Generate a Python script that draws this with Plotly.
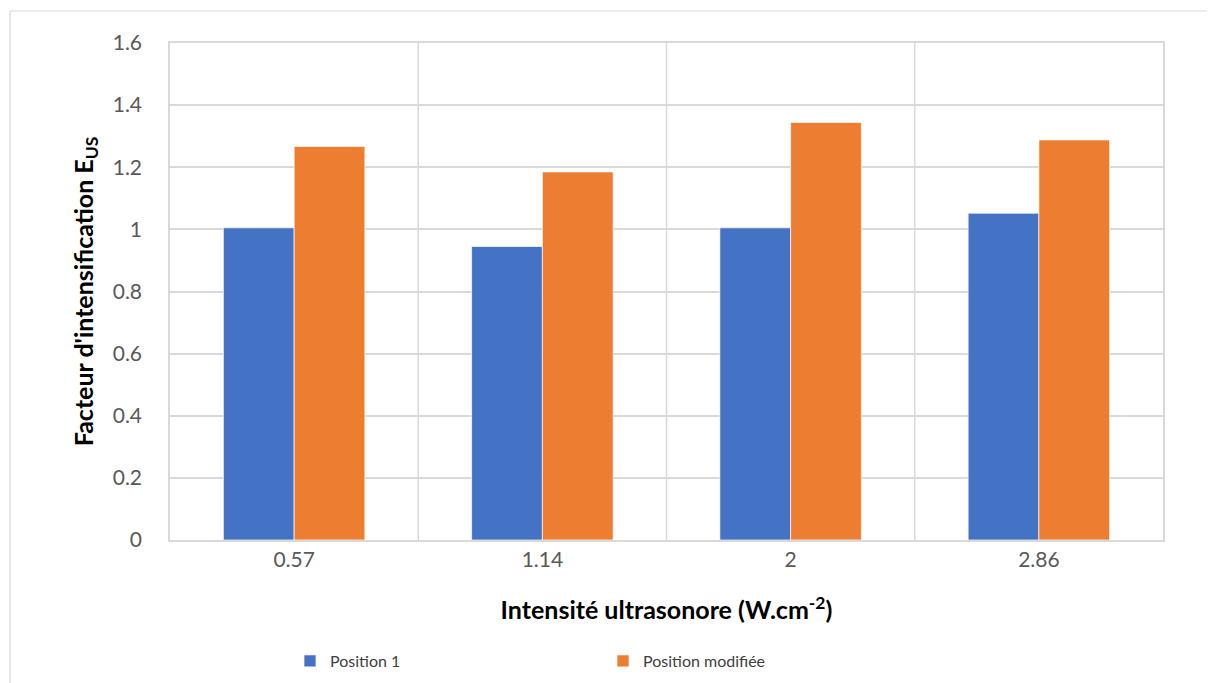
import plotly.graph_objects as go

categories = ["0.57", "1.14", "2", "2.86"]
position_1 = [1.005, 0.945, 1.005, 1.052]
position_modifiee = [1.267, 1.185, 1.344, 1.288]
y_ticks = [0, 0.2, 0.4, 0.6, 0.8, 1, 1.2, 1.4, 1.6]
y_tick_labels = ["0", "0.2", "0.4", "0.6", "0.8", "1", "1.2", "1.4", "1.6"]

# page body adds an 8px offset at top/left
OFF = 8
W, H = 1215 - OFF, 683 - OFF
L, T = 170 - OFF, 43 - OFF
R = W - (1163 - OFF)
B = H - (540 - OFF)
pw, ph = W - L - R, H - T - B

def px(x):
    return (x - OFF - L) / pw

def py(y):
    return (H - B - (y - OFF)) / ph

def cy(y):
    return 1 - (y - OFF) / H

fig = go.Figure()
fig.add_trace(go.Bar(x=categories, y=position_1, name="Position 1",
                     marker=dict(color="#4472C4", line=dict(color="#FFFFFF", width=0.7))))
fig.add_trace(go.Bar(x=categories, y=position_modifiee, name="Position modifiée",
                     marker=dict(color="#ED7D31", line=dict(color="#FFFFFF", width=0.7))))

font = "Lato, 'Open Sans', sans-serif"

fig.update_layout(
    width=W, height=H,
    margin=dict(l=L, r=R, t=T, b=B),
    paper_bgcolor="white", plot_bgcolor="white",
    barmode="group", bargap=0.43, bargroupgap=0,
    font=dict(family=font, size=16, color="#595959"),
    showlegend=True,
    legend=dict(orientation="h", x=px(290), xanchor="left",
                yref="container", y=cy(661), yanchor="middle",
                entrywidth=268, entrywidthmode="pixels",
                font=dict(size=16, color="#404040"), itemwidth=30,
                traceorder="normal"),
    xaxis=dict(
        type="category",
        showgrid=False,
        showline=True, linecolor="#D9D9D9", linewidth=1.5, mirror=True,
        ticks="", tickfont=dict(size=21, color="#595959"),
        title=dict(text="<b>Intensité ultrasonore (W.cm<sup>-2</sup>)</b>",
                   font=dict(size=25, color="#000000"), standoff=32),
    ),
    yaxis=dict(
        range=[0, 1.6],
        tickvals=y_ticks, ticktext=y_tick_labels,
        showgrid=True, gridcolor="#D9D9D9", gridwidth=1.5,
        showline=True, linecolor="#D9D9D9", linewidth=1.5, mirror=True,
        zeroline=False,
        ticks="", ticklabelstandoff=22,
        tickfont=dict(size=21, color="#595959"),
        title=dict(text="<b>Facteur d'intensification E<sub>US</sub></b>",
                   font=dict(size=25, color="#000000"), standoff=12),
    ),
)

# vertical separators between categories
for xv in [0.5, 1.5, 2.5]:
    fig.add_shape(type="line", xref="x", yref="paper", x0=xv, x1=xv, y0=0, y1=1,
                  line=dict(color="#D9D9D9", width=1.5), layer="below")

# outer chart border (left and top edges visible in the reference)
fig.add_shape(type="line", xref="paper", yref="paper",
              x0=px(10), x1=px(1215), y0=py(11), y1=py(11),
              line=dict(color="#D9D9D9", width=1.2))
fig.add_shape(type="line", xref="paper", yref="paper",
              x0=px(10), x1=px(10), y0=py(11), y1=py(690),
              line=dict(color="#D9D9D9", width=1.2))

fig.write_html("out.html")
